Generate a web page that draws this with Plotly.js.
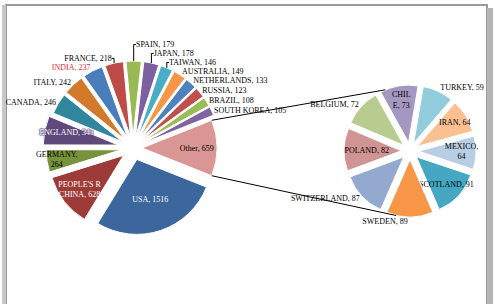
<!DOCTYPE html>
<html><head><meta charset="utf-8">
<script src="https://cdn.plot.ly/plotly-3.0.1.min.js"></script>
<style>html,body{margin:0;padding:0;background:#fff}#chart{width:497px;height:304px}</style>
</head><body><div id="chart"></div>
<script>
// Main pie (clockwise from "Other")
const mainLabels = ["Other", "USA", "PEOPLE'S R<br>CHINA", "GERMANY", "ENGLAND", "CANADA", "ITALY", "INDIA", "FRANCE", "SPAIN", "JAPAN", "TAIWAN", "AUSTRALIA", "NETHERLANDS", "RUSSIA", "BRAZIL", "SOUTH KOREA"];
const mainValues = [659, 1516, 628, 264, 341, 246, 242, 237, 218, 179, 178, 146, 149, 133, 123, 108, 105];
// Secondary pie (breakdown of "Other", clockwise from top)
const subLabels = ["CHIL<br>E", "TURKEY", "IRAN", "MEXICO", "SCOTLAND", "SWEDEN", "SWITZERLAND", "POLAND", "BELGIUM"];
const subValues = [73, 59, 64, 64, 91, 89, 87, 82, 72];

const W = 497, H = 304;
const mainColors = ["#D99694","#3C679C","#9C3B38","#77933C","#604A7B","#31859C","#D27A2C","#4A7EBB","#BE4B48","#98B954","#7D60A0","#4BACC6","#F79646","#4F81BD","#C0504D","#9BBB59","#8064A2"];
const subColors = ["#A598C0","#93CDDD","#FAC090","#B9CDE5","#45A7C2","#F79646","#93A9D0","#D09593","#B7CC8E"];
const mainPos = ["inside","inside","inside","inside","inside","outside","outside","outside","outside","outside","outside","outside","outside","outside","outside","outside","outside"];
const mainTxtCol = mainLabels.map((l,i)=> (i===1||i===2||i===4) ? "#ffffff" : (i===7 ? "#E03030" : "#000000"));
const halo = "1px 0 1px #604A7B, -1px 0 1px #604A7B, 0 1px 1px #604A7B, 0 -1px 1px #604A7B";
const mainShadow = mainLabels.map((l,i)=> i===4 ? halo : "none");
const pad = "\u00A0".repeat(10);
const mainTmpl = mainLabels.map((l,i)=> i===3 ? "%{label},<br>%{value}" : (i===4 ? pad + "%{label}, %{value}" : "%{label}, %{value}"));
const subPos = ["inside","outside","inside","inside","inside","outside","outside","inside","outside"];
const subTmpl = subLabels.map((l,i)=> i===3 ? "%{label},<br>%{value}" : "%{label}, %{value}");

const pullS = 0.15;
const mainPull = mainValues.map((v,i)=> i===4 ? 0.2 : (i===0 ? 0.12 : 0.16));
const maxPullM = Math.max(...mainPull);
const mainTotal = mainValues.reduce((a,b)=>a+b,0);
const otherDeg = mainValues[0]/mainTotal*360;
const rotMain = 90 - otherDeg/2;

// pie geometry (pixels)
const mainC = [133,148], mainR = 90;
const subC = [410,151], subR = 66;
const dom = (c,r)=>({x:[(c[0]-r)/W,(c[0]+r)/W], y:[1-(c[1]+r)/H, 1-(c[1]-r)/H]});

const fam = "Liberation Serif, Times New Roman, serif";

const traces = [
 {type:"pie", labels:mainLabels, values:mainValues, sort:false, direction:"clockwise", rotation:rotMain,
  domain:dom(mainC,mainR), pull:mainPull, marker:{colors:mainColors, line:{color:"#fff", width:1}},
  texttemplate:mainTmpl, textposition:mainPos, insidetextorientation:"horizontal",
  textfont:{family:fam, size:8, color:mainTxtCol, shadow:mainShadow}, showlegend:false, hoverinfo:"label+value"},
 {type:"pie", labels:subLabels, values:subValues, sort:false, direction:"clockwise", rotation:-29,
  domain:dom(subC,subR), pull:subValues.map(()=>pullS), marker:{colors:subColors, line:{color:"#fff", width:1}},
  texttemplate:subTmpl, textposition:subPos, insidetextorientation:"horizontal",
  textfont:{family:fam, size:8, color:"#000"}, showlegend:false, hoverinfo:"label+value"}
];

// connector lines from "Other" slice to secondary pie
const rM = mainR/(1+maxPullM);
const d2r = Math.PI/180;
const mid = rotMain + otherDeg/2;
const off = [mainPull[0]*rM*Math.sin(mid*d2r), -mainPull[0]*rM*Math.cos(mid*d2r)];
function pt(c,r,a,o){return [c[0]+o[0]+r*Math.sin(a*d2r), c[1]+o[1]-r*Math.cos(a*d2r)];}
const p1 = pt(mainC, rM, rotMain, off), p2 = pt(mainC, rM, rotMain+otherDeg, off);
const q1 = pt(subC, subR, -22, [0,0]), q2 = pt(subC, subR, 192, [0,0]);
const px = (p)=>({x:p[0]/W, y:1-p[1]/H});
function line(a,b){const A=px(a),B=px(b);return {type:"line",xref:"paper",yref:"paper",x0:A.x,y0:A.y,x1:B.x,y1:B.y,line:{color:"#000",width:1}};}

const shapes = [
 line(p1,q1), line(p2,q2),
 // frame
 {type:"rect",xref:"paper",yref:"paper",x0:6/W,x1:487/W,y0:-0.05,y1:1-5/H,line:{color:"#9a9a9a",width:2},layer:"below"},
 {type:"rect",xref:"paper",yref:"paper",x0:487/W,x1:493/W,y0:-0.05,y1:1-8/H,fillcolor:"#b5b5b5",line:{width:0},layer:"below"},
 {type:"rect",xref:"paper",yref:"paper",x0:2/W,x1:6/W,y0:-0.05,y1:1-5/H,fillcolor:"#c8c8c8",line:{width:0},layer:"below"}
];

Plotly.newPlot("chart", traces, {
  width:W, height:H, margin:{l:0,r:0,t:0,b:0}, paper_bgcolor:"#fff",
  font:{family:fam, size:8, color:"#000"}, shapes:shapes, showlegend:false,
  uniformtext:{mode:"show", minsize:8}
}, {staticPlot:true});
</script></body></html>
